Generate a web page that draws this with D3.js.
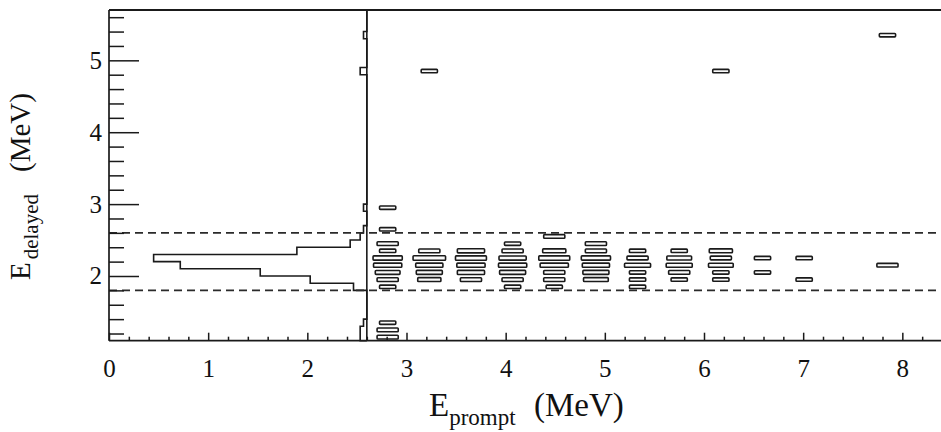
<!DOCTYPE html>
<html><head><meta charset="utf-8">
<script src="https://cdn.jsdelivr.net/npm/d3@7"></script>
<style>
html,body{margin:0;padding:0;background:#fff;}
svg{display:block;}
text{font-family:"Liberation Serif","Times New Roman",serif;fill:#111;}
</style></head>
<body>
<script>
// ---------------- data ----------------
// prompt-energy bins of the 2-D histogram (lower edges, MeV), bin width 0.42 MeV
const promptBinLow = [2.60, 3.02, 3.44, 3.86, 4.28, 4.70, 5.12, 5.54, 5.96, 6.38, 6.80, 7.22, 7.64];
const promptBinWidth = 0.42;
// delayed-energy rows that contain entries (lower edges, MeV), bin width 0.1 MeV
const delayedRowLow = [1.1, 1.2, 1.3, 1.8, 1.9, 2.0, 2.1, 2.2, 2.3, 2.4, 2.5, 2.6, 2.9, 4.8, 5.3];
const delayedBinWidth = 0.1;
// counts per cell: one array per delayed row, one entry per prompt bin
const boxCounts = [
  [2,0,0,0,0,0,0,0,0,0,0,0,0],   // 1.1
  [2,0,0,0,0,0,0,0,0,0,0,0,0],   // 1.2
  [1,0,0,0,0,0,0,0,0,0,0,0,0],   // 1.3
  [1,0,0,1,1,0,1,0,0,0,0,0,0],   // 1.8
  [2,3,2,2,2,4,1,1,1,0,1,0,0],   // 1.9
  [4,5,6,5,2,5,1,2,1,1,0,0,0],   // 2.0
  [7,6,7,7,7,6,5,5,4,0,0,0,2],   // 2.1
  [8,12,10,6,10,8,2,4,2,1,1,0,0],// 2.2
  [1,2,6,2,3,2,1,1,3,0,0,0,0],   // 2.3
  [2,0,0,1,0,2,0,0,0,0,0,0,0],   // 2.4
  [0,0,0,0,2,0,0,0,0,0,0,0,0],   // 2.5
  [1,0,0,0,0,0,0,0,0,0,0,0,0],   // 2.6
  [1,0,0,0,0,0,0,0,0,0,0,0,0],   // 2.9
  [0,1,0,0,0,0,0,0,1,0,0,0,0],   // 4.8
  [0,0,0,0,0,0,0,0,0,0,0,0,1]    // 5.3
];
// projection onto E_delayed (drawn leftwards from E_prompt = 2.6)
const projRowLow  = [1.1, 1.2, 1.3, 1.8, 1.9, 2.0, 2.1, 2.2, 2.3, 2.4, 2.5, 2.6, 2.9, 4.8, 5.3];
const projCounts  = [2,   2,   1,   4,   17,  32,  56,  64,  21,  5,   2,   1,   1,   2,   1];
const projBaseline = 2.6;
// selection cut lines on E_delayed
const cutLines = [1.8, 2.6];
// tick labels
const xTickLabels = [0, 1, 2, 3, 4, 5, 6, 7, 8];
const yTickLabels = [2, 3, 4, 5];

// ---------------- layout ----------------
const W = 941, H = 432;
const mLeft = 109, mRight = 942, mTop = 10, mBottom = 340.7;
const x = d3.scaleLinear().domain([0, 8.4]).range([mLeft, mRight]);
const y = d3.scaleLinear().domain([1.1, 5.7]).range([mBottom, mTop]);
const ink = "#1a1a1a";
const serif = '"Liberation Serif","Times New Roman",serif';

const svg = d3.select("body").append("svg").attr("width", W).attr("height", H);
svg.append("rect").attr("width", W).attr("height", H).attr("fill", "#fff");

// boxes
const maxCount = d3.max(boxCounts.flat());
const wFrac = d3.scaleSqrt().domain([0, maxCount - 1]).range([0.39, 0.78]);
const hFrac = d3.scaleSqrt().domain([0, maxCount - 1]).range([0.47, 0.62]);
const cells = [];
delayedRowLow.forEach((lo, r) => {
  boxCounts[r].forEach((n, c) => {
    if (n > 0) cells.push({px: promptBinLow[c], py: lo, n});
  });
});
svg.append("g").selectAll("rect").data(cells).join("rect")
  .attr("x", d => {
    const x0 = x(d.px), x1 = x(d.px + promptBinWidth), bw = x1 - x0, w = bw * wFrac(d.n - 1);
    return x0 + (bw - w) / 2;
  })
  .attr("width", d => (x(d.px + promptBinWidth) - x(d.px)) * wFrac(d.n - 1))
  .attr("y", d => {
    const y0 = y(d.py + delayedBinWidth), y1 = y(d.py), bh = y1 - y0, h = bh * hFrac(d.n - 1);
    return y0 + (bh - h) / 2;
  })
  .attr("height", d => (y(d.py) - y(d.py + delayedBinWidth)) * hFrac(d.n - 1))
  .attr("rx", 0.8)
  .attr("fill", "#fafafa").attr("stroke", ink).attr("stroke-width", 1.6);

// projection histogram
const proj = d3.scaleLinear().domain([0, 64]).range([x(projBaseline), x(0.45)]);
const nBins = Math.round((5.7 - 1.1) / delayedBinWidth);
const pts = [[proj(0), y(1.1)]];
for (let b = 0; b < nBins; b++) {
  const lo = +(1.1 + b * delayedBinWidth).toFixed(2);
  const idx = projRowLow.findIndex(v => Math.abs(v - lo) < 1e-6);
  const cnt = idx >= 0 ? projCounts[idx] : 0;
  pts.push([proj(cnt), y(lo)]);
  pts.push([proj(cnt), y(lo + delayedBinWidth)]);
}
pts.push([proj(0), y(5.7)]);
svg.append("path").attr("d", d3.line()(pts))
  .attr("fill", "none").attr("stroke", ink).attr("stroke-width", 1.6);
svg.append("line").attr("x1", x(projBaseline)).attr("x2", x(projBaseline))
  .attr("y1", y(1.1)).attr("y2", y(5.7)).attr("stroke", ink).attr("stroke-width", 1.6);

// dashed cut lines
svg.append("g").selectAll("line").data(cutLines).join("line")
  .attr("x1", mLeft).attr("x2", W).attr("y1", d => y(d)).attr("y2", d => y(d))
  .attr("stroke", "#2a2a2a").attr("stroke-width", 1.7).attr("stroke-dasharray", "8,5");

// axes
const xMinor = d3.range(0, 8.41, 0.2).filter(v => Math.abs(v - Math.round(v)) > 1e-6);
const yMinor = d3.range(1.2, 5.71, 0.2).filter(v => Math.abs(v - Math.round(v)) > 1e-6);

const gx = svg.append("g").attr("transform", `translate(0,${mBottom})`);
gx.call(d3.axisBottom(x).tickValues(xTickLabels).tickSize(-8).tickPadding(19).tickFormat(d3.format("d")));
const gxm = svg.append("g").attr("transform", `translate(0,${mBottom})`);
gxm.call(d3.axisBottom(x).tickValues(xMinor).tickSize(-4).tickFormat(""));

const gy = svg.append("g").attr("transform", `translate(${mLeft},0)`);
gy.call(d3.axisLeft(y).tickValues(yTickLabels).tickSize(-30).tickPadding(7).tickFormat(d3.format("d")));
const gym = svg.append("g").attr("transform", `translate(${mLeft},0)`);
gym.call(d3.axisLeft(y).tickValues(yMinor).tickSize(-15).tickFormat(""));

[gx, gxm, gy, gym].forEach(g => {
  g.attr("font-family", null).attr("font-size", null);
  g.select(".domain").remove();
  g.selectAll("line").attr("stroke", ink).attr("stroke-width", 1.5);
  g.selectAll("text").style("font-size", "25px").style("font-family", serif).style("fill", "#111");
});

// frame
svg.append("line").attr("x1", mLeft).attr("x2", W).attr("y1", mBottom).attr("y2", mBottom)
  .attr("stroke", ink).attr("stroke-width", 1.7);
svg.append("line").attr("x1", mLeft).attr("x2", W).attr("y1", mTop).attr("y2", mTop)
  .attr("stroke", ink).attr("stroke-width", 2.2);
svg.append("line").attr("x1", mLeft).attr("x2", mLeft).attr("y1", mTop).attr("y2", mBottom)
  .attr("stroke", ink).attr("stroke-width", 1.7);

// axis titles
const xt = svg.append("text").attr("x", 429).attr("y", 416).style("font-size", "33px");
xt.append("tspan").text("E");
xt.append("tspan").style("font-size", "23px").attr("dy", 9).text("prompt");
xt.append("tspan").attr("x", 534).attr("dy", -9).text("(MeV)");

const yt = svg.append("text").attr("transform", "translate(30,280) rotate(-90)").style("font-size", "29px");
yt.append("tspan").text("E");
yt.append("tspan").style("font-size", "21px").attr("dx", 3).attr("dy", 8).text("delayed");
yt.append("tspan").attr("dx", 22).attr("dy", -8).text("(MeV)");
</script>
</body></html>
